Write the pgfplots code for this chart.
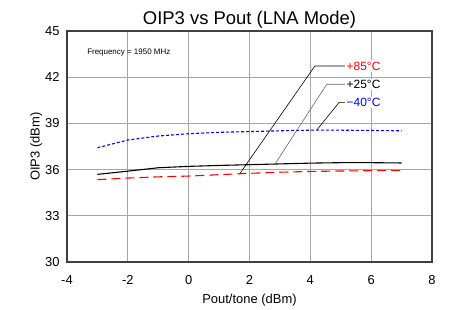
\documentclass[border=0pt]{standalone}
\usepackage{pgfplots}
\pgfplotsset{compat=1.18}
\usepackage{fontspec}
\setmainfont{Liberation Sans}
\begin{document}
\begin{tikzpicture}
\begin{axis}[
  at={(0,0)}, anchor=south west,
  scale only axis, width=365bp, height=231bp,
  xmin=-4, xmax=8, ymin=30, ymax=45,
  xtick={-4,-2,...,8}, ytick={30,33,...,45},
  grid=major, major grid style={draw=black!35, line width=0.8pt},
  axis line style={draw=black!75, line width=1.2pt},
  tick style={draw=none},
  /pgf/number format/assume math mode=true,
  ticklabel style={font=\fontsize{13}{14}\selectfont},
  xticklabel style={yshift=-10bp},
  yticklabel style={xshift=-4bp},
  xlabel={Pout/tone (dBm)}, ylabel={OIP3 (dBm)},
  label style={font=\fontsize{13}{14}\selectfont},
  xlabel style={yshift=-3bp},
  ylabel style={yshift=-4bp},
  title={OIP3 vs Pout (LNA Mode)},
  title style={font=\fontsize{18.5}{20}\selectfont, yshift=-7bp},
  clip=false,
]
\addplot[blue, line width=1.1pt, dash pattern=on 3bp off 2bp] coordinates {
(-3,37.42) (-2,37.92) (-1,38.18) (0,38.33) (1,38.42) (2,38.47) (3,38.52) (4,38.56) (5,38.56) (6,38.54) (7,38.52)};
\addplot[black, line width=1.1pt] coordinates {
(-3,35.69) (-2,35.90) (-1,36.12) (0,36.21) (1,36.27) (2,36.32) (3,36.37) (4,36.42) (5,36.45) (6,36.45) (7,36.43)};
\addplot[red, line width=1.1pt, dash pattern=on 9bp off 5bp] coordinates {
(-3,35.35) (-2,35.45) (-1,35.53) (0,35.58) (1,35.67) (2,35.76) (3,35.83) (4,35.88) (5,35.91) (6,35.93) (7,35.93)};
% leader lines
\addplot[black, line width=0.6pt] coordinates {(1.69,35.76) (4.15,42.73) (5.14,42.73)};
\addplot[black!60, line width=0.6pt] coordinates {(2.84,36.37) (4.54,41.54) (5.14,41.54)};
\addplot[black, line width=0.6pt] coordinates {(4.21,38.57) (4.95,40.37) (5.14,40.37)};
\node[anchor=west, fill=white, inner sep=1.5bp, text=red, font=\fontsize{12}{13}\selectfont] at (axis cs:5.14,42.73) {+85°C};
\node[anchor=west, fill=white, inner sep=1.5bp, text=black, font=\fontsize{12}{13}\selectfont] at (axis cs:5.14,41.54) {+25°C};
\node[anchor=west, fill=white, inner sep=1.5bp, text=blue, font=\fontsize{12}{13}\selectfont] at (axis cs:5.14,40.37) {−40°C};
\node[anchor=west, font=\fontsize{8}{9}\selectfont] at (axis cs:-3.45,43.6) {Frequency = 1950 MHz};
\end{axis}
\path[use as bounding box] (-67bp,-43bp) rectangle (394bp,262bp);
\end{tikzpicture}
\end{document}
